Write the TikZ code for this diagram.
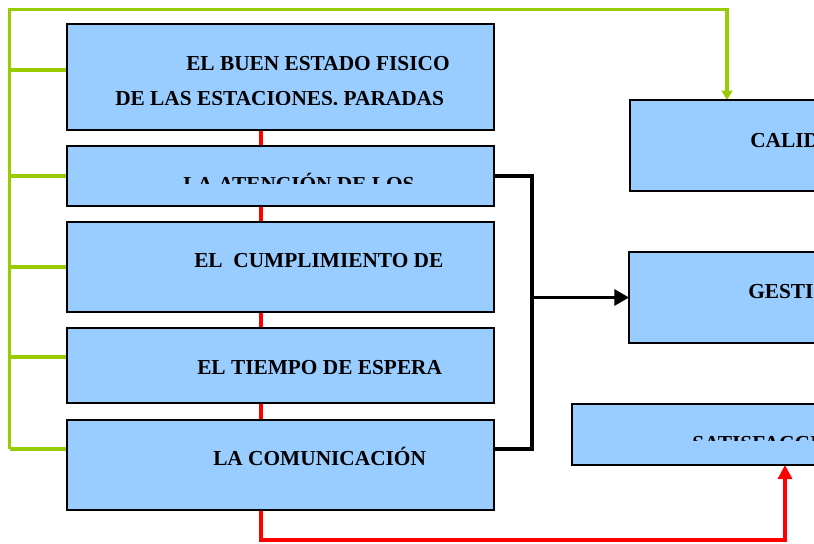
\documentclass[tikz,border=0pt]{standalone}
\usepackage{fontspec}
\setmainfont{Liberation Serif}
\usepackage{xcolor}
\usetikzlibrary{positioning,arrows.meta,backgrounds}

\definecolor{azulcaja}{HTML}{99CCFF}
\definecolor{verdelinea}{HTML}{99CC00}

\tikzset{
  caja/.style={draw=black, line width=1.2pt, fill=azulcaja, inner sep=0pt, outer sep=0pt},
  texto/.style={anchor=base west, inner sep=0pt, font=\bfseries\fontsize{16}{19}\selectfont},
  verde/.style={draw=verdelinea, line width=2.3pt},
  rojo/.style={draw=red, line width=2.3pt},
  negro/.style={draw=black, line width=2.3pt},
}

\begin{document}
\begin{tikzpicture}[x=0.75pt,y=-0.75pt]
    \useasboundingbox (0,0) rectangle (814,543);
    % cajas de la izquierda
    \node[caja, minimum width=320.25pt, minimum height=79.5pt] (estado) at (280.5,77) {};
    \node[caja, minimum width=320.25pt, minimum height=45pt, below=12pt of estado] (atencion) {};
    \node[caja, minimum width=320.25pt, minimum height=67.5pt, below=12pt of atencion] (cumplim) {};
    \node[caja, minimum width=320.25pt, minimum height=56.25pt, below=12pt of cumplim] (espera) {};
    \node[caja, minimum width=320.25pt, minimum height=67.5pt, below=12.75pt of espera] (comunic) {};
    % cajas de la derecha
    \node[caja, minimum width=145.5pt, minimum height=68.25pt] (calidad) at (727,145.5) {};
    \node[caja, minimum width=145.5pt, minimum height=68.25pt] (gestion) at (726,297.5) {};
    \node[caja, minimum width=319.5pt, minimum height=45.75pt] (satisf) at (785,434.5) {};

    \node[texto] (t1) at (186,70) {EL BUEN ESTADO FISICO};
    \begin{scope}
        \clip (67,88) rectangle (494,104);
        \node[texto] (t2) at (115,105) {DE LAS ESTACIONES. PARADAS};
    \end{scope}
    \begin{scope}
        \clip (67,165) rectangle (494,183);
        \node[texto] (t3) at (183,191) {LA ATENCIÓN DE LOS};
    \end{scope}
    \node[texto] (t4) at (194,267) {EL\ \ CUMPLIMIENTO DE};
    \node[texto] (t5) at (197,374) {EL TIEMPO DE ESPERA};
    \node[texto] (t6) at (213,465) {LA COMUNICACIÓN};
    \node[texto] (t7) at (750,147) {CALIDAD};
    \node[texto] (t8) at (748,298) {GESTIÓN};
    \begin{scope}
        \clip (572,420) rectangle (814,440);
        \node[texto] (t9) at (692,450) {SATISFACCIÓN};
    \end{scope}

    \coordinate (gtop) at (9.5,9.5);
    \coordinate (gbot) at (9.5,449);
    \coordinate (nudo) at (532,297.5);
    \coordinate (rb) at (261,540);

    \begin{scope}[on background layer]
        % lazo verde
        \draw[verde, -{Triangle[length=7pt,width=8pt]}] (gbot) -- (gtop) -| (calidad.north);
        \foreach \n/\y in {estado/70,atencion/176,cumplim/267,espera/357,comunic/449}
            \draw[verde] (gtop |- 0,\y) -- (\n.west |- 0,\y);
        % llave negra
        \draw[negro] (atencion.east) -| (nudo);
        \draw[negro] (comunic.east |- 0,449) -| (nudo);
        \draw[negro, -{Triangle[length=11pt,width=12pt]}] (nudo) -- (gestion.west);
        % linea roja
        \draw[rojo, -{Triangle[length=10.5pt,width=10.5pt]}] (estado.south -| rb) -- (rb) -| (satisf.south);
    \end{scope}
\end{tikzpicture}
\end{document}
